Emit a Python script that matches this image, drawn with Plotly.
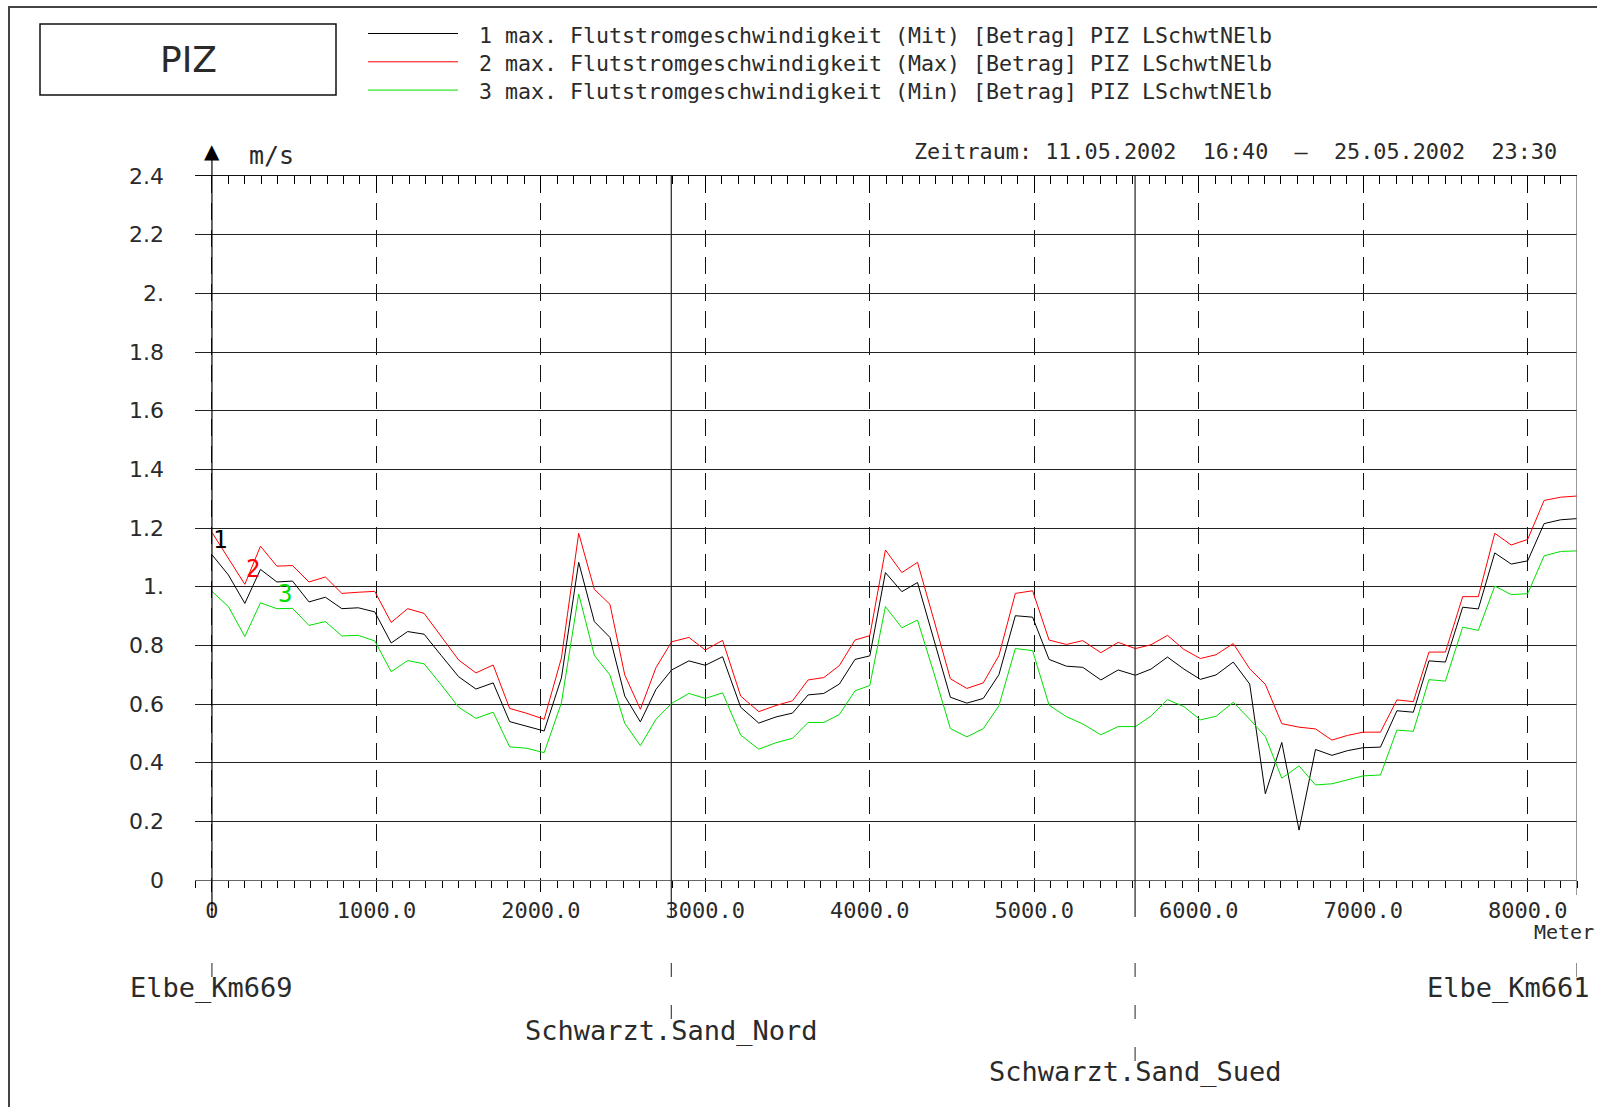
import plotly.graph_objects as go

# stations along the profile (m) and measured values (m/s)
dist = [0, 100, 200, 295, 395, 490, 590, 690, 790, 890, 990,
        1090, 1190, 1290, 1395, 1500, 1605, 1710, 1810, 1915,
        2020, 2125, 2230, 2325, 2420, 2510, 2605, 2700, 2795, 2900,
        3000, 3105, 3215, 3325, 3430, 3530, 3625, 3720, 3815, 3910,
        4000, 4095, 4195, 4290, 4390, 4490, 4590, 4690, 4785, 4885,
        4990, 5090, 5195, 5295, 5405, 5510, 5615, 5710, 5810, 5910,
        6010, 6105, 6210, 6310, 6405, 6505, 6610, 6710, 6810, 6905,
        7000, 7105, 7205, 7305, 7400, 7500, 7605, 7700, 7800, 7900,
        8000, 8100, 8200, 8300]

v_mit = [1.109, 1.040, 0.943, 1.059, 1.016, 1.019, 0.948, 0.964, 0.925, 0.928, 0.914,
         0.808, 0.847, 0.838, 0.765, 0.693, 0.651, 0.672, 0.540, 0.523,
         0.508, 0.689, 1.083, 0.881, 0.827, 0.627, 0.539, 0.650, 0.716, 0.747,
         0.732, 0.761, 0.589, 0.535, 0.556, 0.569, 0.631, 0.636, 0.668, 0.752,
         0.764, 1.048, 0.983, 1.014, 0.818, 0.623, 0.603, 0.619, 0.700, 0.901,
         0.896, 0.752, 0.729, 0.725, 0.682, 0.716, 0.698, 0.719, 0.760, 0.719,
         0.684, 0.699, 0.743, 0.668, 0.294, 0.469, 0.170, 0.445, 0.425, 0.441,
         0.451, 0.453, 0.577, 0.572, 0.747, 0.743, 0.930, 0.924, 1.115, 1.077,
         1.088, 1.215, 1.228, 1.232]

v_max = [1.185, 1.097, 1.008, 1.138, 1.070, 1.072, 1.016, 1.033, 0.977, 0.981, 0.984,
         0.878, 0.925, 0.909, 0.830, 0.750, 0.706, 0.733, 0.585, 0.568,
         0.548, 0.757, 1.182, 0.991, 0.940, 0.699, 0.582, 0.724, 0.812, 0.827,
         0.784, 0.817, 0.627, 0.574, 0.595, 0.611, 0.682, 0.690, 0.731, 0.818,
         0.833, 1.125, 1.048, 1.083, 0.886, 0.686, 0.653, 0.672, 0.765, 0.977,
         0.986, 0.818, 0.803, 0.816, 0.775, 0.810, 0.789, 0.802, 0.834, 0.786,
         0.755, 0.768, 0.806, 0.720, 0.667, 0.533, 0.521, 0.515, 0.477, 0.493,
         0.504, 0.504, 0.614, 0.608, 0.777, 0.777, 0.966, 0.966, 1.182, 1.142,
         1.161, 1.294, 1.305, 1.309]

v_min = [0.984, 0.932, 0.830, 0.945, 0.925, 0.926, 0.868, 0.881, 0.832, 0.834, 0.815,
         0.710, 0.748, 0.737, 0.665, 0.589, 0.551, 0.572, 0.454, 0.449,
         0.434, 0.604, 0.975, 0.766, 0.699, 0.534, 0.458, 0.548, 0.602, 0.636,
         0.619, 0.638, 0.494, 0.446, 0.468, 0.483, 0.537, 0.537, 0.564, 0.645,
         0.663, 0.932, 0.860, 0.886, 0.705, 0.516, 0.488, 0.516, 0.594, 0.789,
         0.782, 0.596, 0.557, 0.532, 0.495, 0.523, 0.523, 0.559, 0.615, 0.591,
         0.546, 0.558, 0.606, 0.548, 0.489, 0.347, 0.389, 0.324, 0.328, 0.341,
         0.355, 0.358, 0.511, 0.507, 0.683, 0.678, 0.862, 0.851, 1.002, 0.973,
         0.976, 1.105, 1.120, 1.122]

names = ["1 max. Flutstromgeschwindigkeit (Mit) [Betrag] PIZ LSchwtNElb",
         "2 max. Flutstromgeschwindigkeit (Max) [Betrag] PIZ LSchwtNElb",
         "3 max. Flutstromgeschwindigkeit (Min) [Betrag] PIZ LSchwtNElb"]
colors = ["#000000", "#ff0000", "#00e000"]

x_ticks = [0, 1000, 2000, 3000, 4000, 5000, 6000, 7000, 8000]
x_text = ["0", "1000.0", "2000.0", "3000.0", "4000.0", "5000.0", "6000.0", "7000.0", "8000.0"]
y_ticks = [0, 0.2, 0.4, 0.6, 0.8, 1.0, 1.2, 1.4, 1.6, 1.8, 2.0, 2.2, 2.4]
y_text = ["0", "0.2", "0.4", "0.6", "0.8", "1.", "1.2", "1.4", "1.6", "1.8", "2.", "2.2", "2.4"]

st_pos = [0, 2793, 5613, 8300]
st_name = ["Elbe_Km669", "Schwarzt.Sand_Nord", "Schwarzt.Sand_Sued", "Elbe_Km661"]

SANS = "DejaVu Sans"
MONO = "DejaVu Sans Mono"
TXT = "#2a2a2a"
W, H = 1597, 1107
ML, MR, MT, MB = 195, 20, 176, 227


def px2x(p):
    return (p - ML) / (W - ML - MR)


def py2y(p):
    return (H - MB - p) / (H - MT - MB)


def label(text, x, y, size, family=MONO, color=TXT, xanchor="center", **kw):
    d = dict(text=text, xref="paper", yref="paper", x=x, y=y, xanchor=xanchor,
             yanchor="middle", showarrow=False,
             font=dict(family=family, size=size, color=color))
    d.update(kw)
    return d


series = [v_mit, v_max, v_min]
fig = go.Figure()
for vals, nm, c in zip(series, names, colors):
    fig.add_trace(go.Scatter(x=dist, y=vals, mode="lines", name=nm,
                             line=dict(color=c, width=1), hoverinfo="skip"))
# carrier for the top tick axis
fig.add_trace(go.Scatter(x=dist, y=v_mit, xaxis="x2", mode="lines", opacity=0,
                         showlegend=False, hoverinfo="skip"))

shapes = []
ann = []

# outer frame and title box
shapes.append(dict(type="rect", xref="paper", yref="paper", x0=px2x(9), y0=py2y(7),
                   x1=px2x(1700), y1=py2y(1200), line=dict(color="#444", width=2)))
shapes.append(dict(type="rect", xref="paper", yref="paper", x0=px2x(40), y0=py2y(24),
                   x1=px2x(336), y1=py2y(95), line=dict(color="#111", width=1.5)))
ann.append(label("PIZ", px2x(188), py2y(60), 36, family=SANS))

# legend drawn by hand (long line samples)
for i, (nm, c) in enumerate(zip(names, colors)):
    yy = py2y(33.5 + 28.3 * i)
    shapes.append(dict(type="line", xref="paper", yref="paper", x0=px2x(368), x1=px2x(458),
                       y0=yy, y1=yy, line=dict(color=c, width=1)))
    ann.append(label(nm, px2x(477), py2y(35 + 28.3 * i), 21.6, xanchor="left"))

ann.append(label("Zeitraum: 11.05.2002  16:40  \u2013  25.05.2002  23:30",
                 px2x(1559), py2y(151), 21.8, xanchor="right"))
ann.append(label("m/s", px2x(247), py2y(155), 25, xanchor="left"))
ann.append(dict(text="\u25B2", xref="x", yref="paper", x=0, y=py2y(151),
                xanchor="center", yanchor="middle", showarrow=False,
                font=dict(family=SANS, size=20, color="#000")))
ann.append(label("Meter", px2x(1596), py2y(932), 20, xanchor="right"))

# curve numbers next to the start of each curve
for k, (vals, c, idx) in enumerate(zip(series, colors, [0, 2, 4])):
    ann.append(dict(text=str(k + 1), x=dist[idx], y=vals[idx], xshift=8, yshift=15,
                    xanchor="center", yanchor="middle", showarrow=False,
                    font=dict(family=MONO, size=24, color=c)))

# vertical axis line with arrow, right border
shapes.append(dict(type="line", xref="x", yref="paper", x0=0, x1=0, y0=py2y(917), y1=py2y(152),
                   line=dict(color="#000", width=1.2)))
shapes.append(dict(type="line", xref="x", yref="paper", x0=8300, x1=8300, y0=py2y(895), y1=1,
                   line=dict(color="#777", width=1.5)))

# stations
lab_y = [988, 1031, 1072, 988]
tick_end = [977, 1019, 1061, 977]
for pos, nm, ly, te in zip(st_pos, st_name, lab_y, tick_end):
    shapes.append(dict(type="line", xref="x", yref="paper", x0=pos, x1=pos,
                       y0=py2y(963), y1=py2y(te), line=dict(color="#222", width=1, dash="14px,28px")))
    if 0 < pos < 8300:
        shapes.append(dict(type="line", xref="x", yref="paper", x0=pos, x1=pos,
                           y0=py2y(917), y1=1, line=dict(color="#222", width=1.2)))
    a = dict(text=nm, x=pos, xref="x", yref="paper", y=py2y(ly), xanchor="center",
             yanchor="middle", showarrow=False, font=dict(family=MONO, size=27, color=TXT))
    if pos == 8300:
        a.update(xanchor="right", xshift=15)
    ann.append(a)

fig.update_layout(
    width=W, height=H,
    margin=dict(l=ML, r=MR, t=MT, b=MB),
    paper_bgcolor="white", plot_bgcolor="white",
    showlegend=False,
    shapes=shapes, annotations=ann,
    xaxis=dict(range=[-103, 8300], tickmode="array", tickvals=x_ticks, ticktext=x_text,
               ticks="outside", ticklen=11, tickcolor="#000", tickwidth=1,
               showgrid=True, gridcolor="#111", gridwidth=1, griddash="17px,10px",
               zeroline=False, showline=True, linecolor="#666", linewidth=1,
               minor=dict(tickmode="linear", tick0=0, dtick=100, ticks="outside",
                          ticklen=7, tickcolor="#000", showgrid=False),
               tickfont=dict(family=MONO, size=22, color=TXT)),
    xaxis2=dict(range=[-103, 8300], overlaying="x", side="top", anchor="y",
                tickmode="array", tickvals=x_ticks[1:], ticks="inside", ticklen=17,
                tickcolor="#000", showticklabels=False, showgrid=False, zeroline=False,
                showline=True, linecolor="#111", linewidth=1,
                minor=dict(tickmode="linear", tick0=0, dtick=100, ticks="inside",
                           ticklen=8, tickcolor="#000", showgrid=False)),
    yaxis=dict(range=[0, 2.4], tickmode="array", tickvals=y_ticks, ticktext=y_text,
               ticks="", showgrid=True, gridcolor="#222", gridwidth=1, zeroline=False,
               showline=False, ticklabelstandoff=30,
               tickfont=dict(family=SANS, size=22, color=TXT)),
)

fig.write_html("out.html", config={"displayModeBar": False},
               post_script="document.body.style.margin='0';")
